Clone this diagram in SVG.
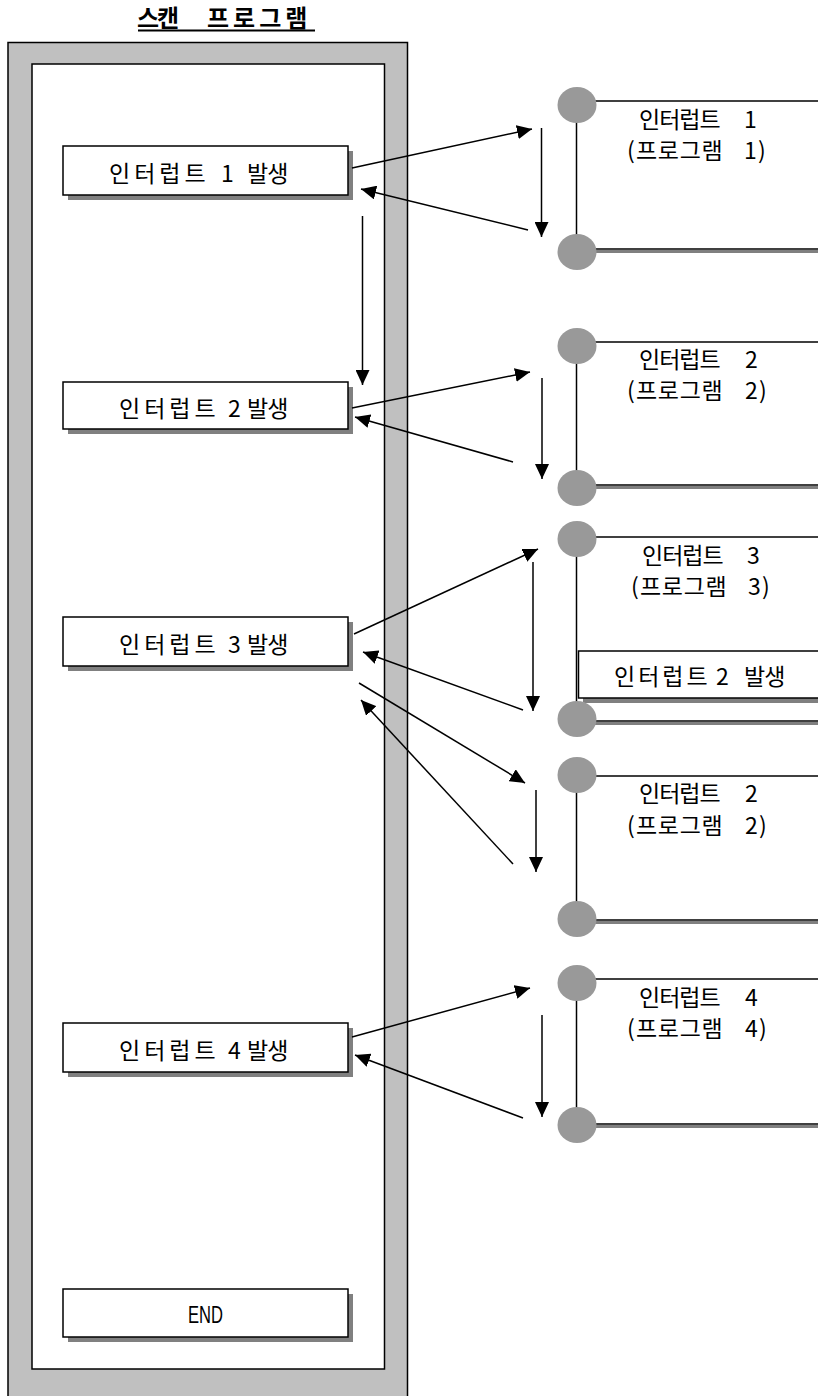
<svg xmlns="http://www.w3.org/2000/svg" width="818" height="1396" viewBox="0 0 818 1396">
<defs>
<style>
.t{font-family:"Noto Sans CJK KR","Noto Sans",sans-serif;font-size:23px;fill:#000}
.box{fill:#fff;stroke:#000;stroke-width:1.5}
.sh{fill:#808080}
.ln{stroke:#000;stroke-width:1.5;fill:none}
.gl{stroke:#808080;stroke-width:3;fill:none}
.dot{fill:#999}
.ar{stroke:#000;stroke-width:1.5;fill:none;marker-end:url(#ah)}
</style>
<marker id="ah" markerUnits="userSpaceOnUse" markerWidth="16" markerHeight="14" refX="15" refY="7" orient="auto">
<path d="M0,0 L15,7 L0,14 z" fill="#000"/>
</marker>
</defs>
<rect width="818" height="1396" fill="#fff"/>

<g id="title">
<text class="t" y="27" style="font-weight:bold;font-size:24px"><tspan x="137" letter-spacing="-2">스캔</tspan><tspan x="207" letter-spacing="4">프로그램</tspan></text>
<line x1="138" y1="30.5" x2="315" y2="30.5" stroke="#000" stroke-width="2"/>
</g>

<g id="scan-frame">
<rect x="8" y="42.5" width="399.5" height="1400" fill="#c0c0c0" stroke="#000" stroke-width="1.5"/>
<rect x="32" y="64" width="352.5" height="1305" class="box"/>
</g>

<g id="box1">
<rect x="68" y="151" width="285" height="49" class="sh"/>
<rect x="63" y="146" width="285" height="49" class="box"/>
<text class="t" y="182"><tspan x="109" letter-spacing="4">인터럽트</tspan><tspan x="221">1</tspan><tspan x="247" letter-spacing="-1">발생</tspan></text>
</g>
<g id="box2">
<rect x="68" y="387" width="285" height="47" class="sh"/>
<rect x="63" y="382" width="285" height="47" class="box"/>
<text class="t" y="417"><tspan x="119" letter-spacing="4">인터럽트</tspan><tspan x="228">2</tspan><tspan x="247" letter-spacing="-1">발생</tspan></text>
</g>
<g id="box3">
<rect x="68" y="622" width="285" height="49" class="sh"/>
<rect x="63" y="617" width="285" height="49" class="box"/>
<text class="t" y="653"><tspan x="119" letter-spacing="4">인터럽트</tspan><tspan x="228">3</tspan><tspan x="247" letter-spacing="-1">발생</tspan></text>
</g>
<g id="box4">
<rect x="68" y="1028" width="285" height="49" class="sh"/>
<rect x="63" y="1023" width="285" height="49" class="box"/>
<text class="t" y="1059"><tspan x="119" letter-spacing="4">인터럽트</tspan><tspan x="228">4</tspan><tspan x="247" letter-spacing="-1">발생</tspan></text>
</g>
<g id="box-end">
<rect x="68" y="1294" width="285" height="48" class="sh"/>
<rect x="63" y="1289" width="285" height="48" class="box"/>
<text x="188" y="1323" font-family="Liberation Sans, sans-serif" font-size="24" textLength="35" lengthAdjust="spacingAndGlyphs">END</text>
</g>

<g id="int1">
<line x1="576.5" y1="105" x2="576.5" y2="252" class="ln"/>
<line x1="577" y1="101" x2="818" y2="101" class="ln"/>
<line x1="577" y1="251.5" x2="818" y2="251.5" class="gl"/>
<line x1="577" y1="249" x2="818" y2="249" class="ln"/>
<ellipse cx="577" cy="105" rx="19.5" ry="18" class="dot"/>
<ellipse cx="577" cy="252" rx="19.5" ry="18" class="dot"/>
<text class="t" y="128"><tspan x="639" letter-spacing="-1">인터럽트</tspan><tspan x="744">1</tspan></text>
<text class="t" y="159"><tspan x="627">(</tspan><tspan x="636" letter-spacing="0.7">프로그램</tspan><tspan x="744">1</tspan><tspan x="758">)</tspan></text>
</g>

<g id="int2">
<line x1="576.5" y1="346" x2="576.5" y2="488" class="ln"/>
<line x1="577" y1="342" x2="818" y2="342" class="ln"/>
<line x1="577" y1="487.5" x2="818" y2="487.5" class="gl"/>
<line x1="577" y1="485" x2="818" y2="485" class="ln"/>
<ellipse cx="577" cy="346" rx="19.5" ry="18" class="dot"/>
<ellipse cx="577" cy="488" rx="19.5" ry="18" class="dot"/>
<text class="t" y="368"><tspan x="639" letter-spacing="-1">인터럽트</tspan><tspan x="745">2</tspan></text>
<text class="t" y="399"><tspan x="627">(</tspan><tspan x="636" letter-spacing="0.7">프로그램</tspan><tspan x="745">2</tspan><tspan x="759">)</tspan></text>
</g>

<g id="int3">
<line x1="576.5" y1="539" x2="576.5" y2="719" class="ln"/>
<line x1="577" y1="537" x2="818" y2="537" class="ln"/>
<line x1="577" y1="723.5" x2="818" y2="723.5" class="gl"/>
<line x1="577" y1="721" x2="818" y2="721" class="ln"/>
<rect x="583" y="656" width="240" height="47" class="sh"/>
<rect x="578.5" y="651" width="245" height="47" class="box"/>
<ellipse cx="577" cy="539" rx="19.5" ry="18" class="dot"/>
<ellipse cx="577" cy="719" rx="19.5" ry="18" class="dot"/>
<text class="t" y="564"><tspan x="642" letter-spacing="-1">인터럽트</tspan><tspan x="747">3</tspan></text>
<text class="t" y="595"><tspan x="631">(</tspan><tspan x="640" letter-spacing="0.7">프로그램</tspan><tspan x="748">3</tspan><tspan x="762">)</tspan></text>
<text class="t" y="685"><tspan x="614" letter-spacing="3">인터럽트</tspan><tspan x="716">2</tspan><tspan x="744" letter-spacing="-1">발생</tspan></text>
</g>

<g id="int2b">
<line x1="576.5" y1="775" x2="576.5" y2="919" class="ln"/>
<line x1="577" y1="776" x2="818" y2="776" class="ln"/>
<line x1="577" y1="922.5" x2="818" y2="922.5" class="gl"/>
<line x1="577" y1="920" x2="818" y2="920" class="ln"/>
<ellipse cx="577" cy="775" rx="19.5" ry="18" class="dot"/>
<ellipse cx="577" cy="919" rx="19.5" ry="18" class="dot"/>
<text class="t" y="802"><tspan x="639" letter-spacing="-1">인터럽트</tspan><tspan x="745">2</tspan></text>
<text class="t" y="834"><tspan x="627">(</tspan><tspan x="636" letter-spacing="0.7">프로그램</tspan><tspan x="745">2</tspan><tspan x="759">)</tspan></text>
</g>

<g id="int4">
<line x1="576.5" y1="983" x2="576.5" y2="1125" class="ln"/>
<line x1="577" y1="979" x2="818" y2="979" class="ln"/>
<line x1="577" y1="1126.5" x2="818" y2="1126.5" class="gl"/>
<line x1="577" y1="1124" x2="818" y2="1124" class="ln"/>
<ellipse cx="577" cy="983" rx="19.5" ry="18" class="dot"/>
<ellipse cx="577" cy="1125" rx="19.5" ry="18" class="dot"/>
<text class="t" y="1006"><tspan x="639" letter-spacing="-1">인터럽트</tspan><tspan x="745">4</tspan></text>
<text class="t" y="1037"><tspan x="627">(</tspan><tspan x="636" letter-spacing="0.7">프로그램</tspan><tspan x="745">4</tspan><tspan x="759">)</tspan></text>
</g>

<g id="connectors">
<line x1="352" y1="168" x2="532" y2="129" class="ar"/>
<line x1="528" y1="230" x2="361" y2="189" class="ar"/>
<line x1="541.5" y1="128" x2="541.5" y2="237" class="ar"/>
<line x1="362.5" y1="216" x2="362.5" y2="385" class="ar"/>
<line x1="352" y1="408" x2="530" y2="372" class="ar"/>
<line x1="513" y1="462" x2="355" y2="417" class="ar"/>
<line x1="542" y1="378" x2="542" y2="479" class="ar"/>
<line x1="354" y1="634" x2="538" y2="549" class="ar"/>
<line x1="533" y1="562" x2="533" y2="711" class="ar"/>
<line x1="523" y1="710" x2="363" y2="652" class="ar"/>
<line x1="359" y1="683" x2="525" y2="783" class="ar"/>
<line x1="513" y1="864" x2="361" y2="700" class="ar"/>
<line x1="536" y1="790" x2="536" y2="872" class="ar"/>
<line x1="352" y1="1037" x2="530" y2="988" class="ar"/>
<line x1="523" y1="1118" x2="355" y2="1055" class="ar"/>
<line x1="542" y1="1015" x2="542" y2="1117" class="ar"/>
</g>
</svg>
